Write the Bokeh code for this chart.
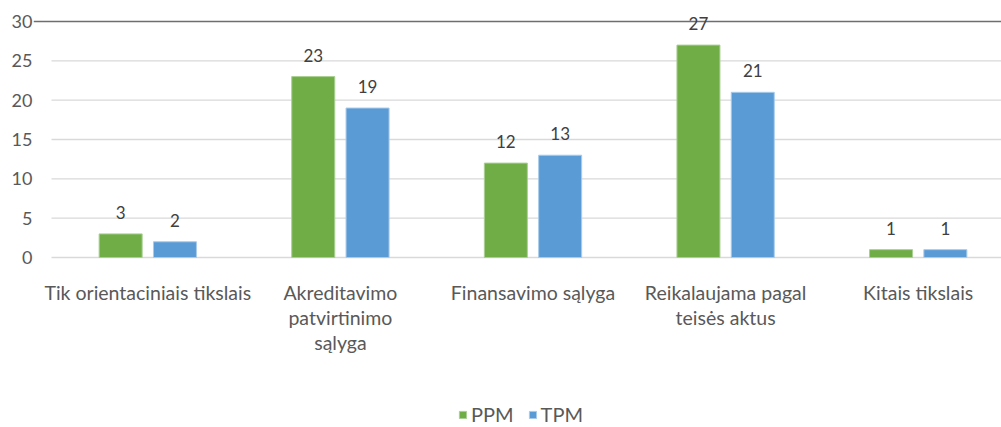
from bokeh.plotting import figure
from bokeh.models import (Range1d, FixedTicker, LabelSet, ColumnDataSource, Legend,
                          LegendItem, Grid)
from bokeh.core.properties import value
from bokeh.embed import file_html
from bokeh.resources import INLINE

categories = ["Tik orientaciniais tikslais", "Akreditavimo\npatvirtinimo\nsąlyga",
              "Finansavimo sąlyga", "Reikalaujama pagal\nteisės aktus", "Kitais tikslais"]
ppm = [3, 23, 12, 27, 1]
tpm = [2, 19, 13, 21, 1]
y_ticks = [0, 5, 10, 15, 20, 25, 30]

FONT = "Lato"
AX_COLOR = "#595959"
GREEN = "#70AD47"
BLUE = "#5B9BD5"

n = len(categories)
centers = [i + 0.5 for i in range(n)]
off = 0.141
bw = 0.2233

# layout: value 0 sits at 257px, 30 at 21px from the top of a 427px canvas
H = 427
y0_px, y30_px = 257, 21
ppu = (y0_px - y30_px) / 30.0
y_top = 30 + y30_px / ppu
y_bot = -(H - y0_px) / ppu

p = figure(width=1001, height=H, output_backend="svg", toolbar_location=None,
           x_range=Range1d(-0.0935, 4.9325), y_range=Range1d(y_bot, y_top),
           min_border_left=33, min_border_right=0, min_border_top=0,
           min_border_bottom=0)
p.outline_line_color = None
p.background_fill_color = "white"
p.border_fill_color = "white"
p.xaxis.visible = False

p.yaxis.ticker = FixedTicker(ticks=y_ticks)
p.yaxis.axis_line_color = None
p.yaxis.major_tick_line_color = None
p.yaxis.minor_tick_line_color = None
p.yaxis.major_tick_out = 0
p.yaxis.major_label_standoff = 1
p.yaxis.major_label_text_font = FONT
p.yaxis.major_label_text_font_size = "18px"
p.yaxis.major_label_text_color = AX_COLOR

p.xgrid.grid_line_color = None
p.ygrid.grid_line_color = None

# light gridlines within the plot area, dark top line across
grid_src = ColumnDataSource(dict(y=y_ticks[:-1], x0=[0] * (len(y_ticks) - 1),
                                 x1=[n] * (len(y_ticks) - 1)))
p.segment(x0="x0", x1="x1", y0="y", y1="y", source=grid_src,
          line_color="#D9D9D9", line_width=1.3)
top_grid = Grid(dimension=1, ticker=FixedTicker(ticks=[y_ticks[-1]]),
                grid_line_color="#6E6E6E", grid_line_width=1.5)
p.add_layout(top_grid)

src = ColumnDataSource(dict(
    xp=[c - off for c in centers], xt=[c + off for c in centers],
    ppm=ppm, tpm=tpm,
    ppm_lab=[str(v) for v in ppm], tpm_lab=[str(v) for v in tpm]))

r1 = p.vbar(x="xp", top="ppm", width=bw, source=src, fill_color=GREEN,
            line_color="#A9CF94", line_width=1)
r2 = p.vbar(x="xt", top="tpm", width=bw, source=src, fill_color=BLUE,
            line_color="#A8CBEA", line_width=1)

for xcol, ycol, lcol in (("xp", "ppm", "ppm_lab"), ("xt", "tpm", "tpm_lab")):
    ls = LabelSet(x=xcol, y=ycol, text=lcol, source=src, y_offset=15,
                  text_align="center", text_baseline="alphabetic",
                  text_font=value(FONT), text_font_size=value("17px"),
                  text_color="#404040")
    p.add_layout(ls)

# category labels, each wrapped line centred under its category
LINE_H = 25
cx, cy, ctext, coff = [], [], [], []
for c, lab in zip(centers, categories):
    for k, line in enumerate(lab.split("\n")):
        cx.append(c)
        cy.append(0)
        ctext.append(line)
        coff.append(-23 - LINE_H * k)
cat_src = ColumnDataSource(dict(x=cx, y=cy, text=ctext, yo=coff))
cat_labels = LabelSet(x="x", y="y", text="text", source=cat_src, y_offset="yo",
                      text_align="center", text_baseline="top",
                      text_font=value(FONT), text_font_size=value("19.5px"),
                      text_color=AX_COLOR)
p.add_layout(cat_labels)

legend = Legend(items=[LegendItem(label="PPM", renderers=[r1]),
                       LegendItem(label="TPM", renderers=[r2])],
                orientation="horizontal", location=(425, 1),
                label_text_font=FONT, label_text_font_size="20px",
                label_text_color=AX_COLOR, glyph_width=9, glyph_height=9,
                label_standoff=4, spacing=14, padding=0, margin=0,
                border_line_color=None, background_fill_alpha=0,
                label_height=9)
p.add_layout(legend, "center")

open("out.html", "w").write(file_html(p, INLINE))
